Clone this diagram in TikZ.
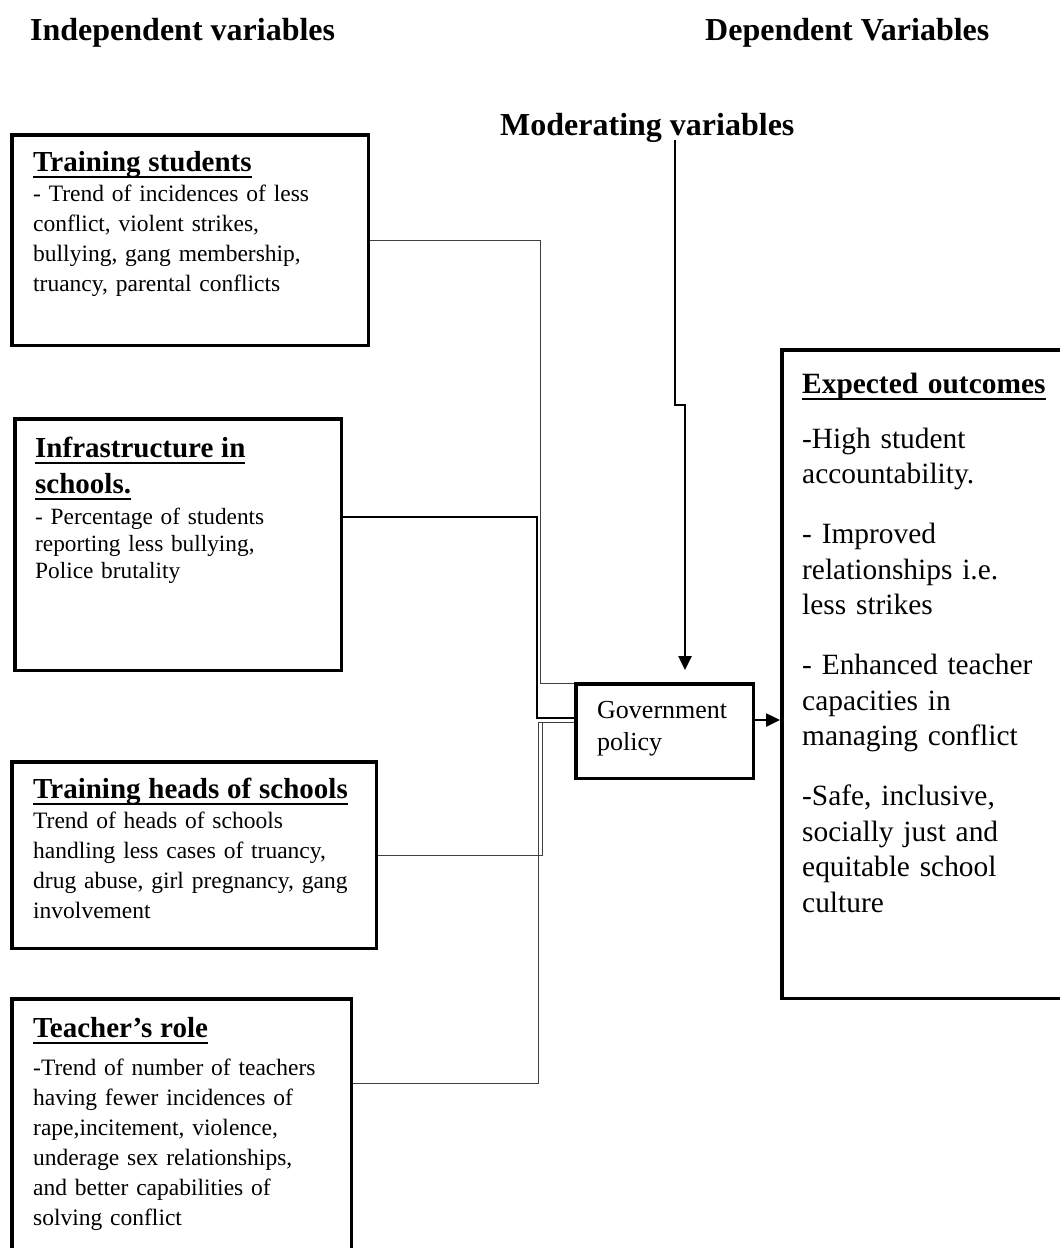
\documentclass[tikz,border=0pt]{standalone}
\usepackage{fontspec}
\setmainfont{Liberation Serif}
\usetikzlibrary{arrows.meta,positioning,calc}
\definecolor{wiregray}{HTML}{404040}
\newcommand{\ulbox}[1]{\leavevmode\setbox0=\hbox{#1}\rlap{\rule[-6.5pt]{\wd0}{2pt}}\box0}
\newcommand{\hdfont}{\bfseries\fontsize{29}{36}\selectfont}

\begin{document}
\begin{tikzpicture}[x=1pt,y=-1pt,
  box/.style={draw,line width=3.5pt,rectangle,inner sep=0pt},
  label/.style={anchor=base west,inner sep=0pt,align=left,text width=345pt},
  title/.style={anchor=base west,inner sep=0pt,font=\bfseries\fontsize{32}{38}\selectfont},
  link/.style={wiregray,line width=1pt},
  feed/.style={line width=2.5pt,-{Triangle[length=14pt,width=13pt]}}]
  \useasboundingbox (0,0) rectangle (1060,1248);
  \clip (0,0) rectangle (1060,1248);

  % Headings
  \node[title] (indep) at (30,40) {Independent variables};
  \node[title] (dep) at (705,40) {Dependent Variables};
  \node[title] (moder) at (500,135) {Moderating variables};

  % Boxes
  \node[box,minimum width=356.5pt,minimum height=210.5pt] (ts) at (190,240) {};
  \node[box,minimum width=326.5pt,minimum height=251.5pt] (inf) at (178,544.5) {};
  \node[box,minimum width=364.5pt,minimum height=186.5pt] (heads) at (194,855) {};
  \node[box,minimum width=339.5pt,minimum height=279.5pt] (teach) at (181.5,1138.5) {};
  \node[box,minimum width=177.5pt,minimum height=94.5pt] (gov) at (664.5,731) {};
  \node[box,minimum width=306.5pt,minimum height=648.5pt] (exp) at (935,674) {};

  % Box texts
  \node[label,font=\fontsize{23.5}{30}\selectfont] (tstext) at (33,171)
    {\ulbox{\hdfont Training students}\\
     - Trend of incidences of less\\
     conflict, violent strikes,\\
     bullying, gang membership,\\
     truancy, parental conflicts};
  \node[label,font=\fontsize{23.3}{27}\selectfont] (inftext) at (35,457)
    {\ulbox{\hdfont Infrastructure in}\\[9pt]
     \ulbox{\hdfont schools.}\\[4pt]
     - Percentage of students\\
     reporting less bullying,\\
     Police brutality};
  \node[label,font=\fontsize{23.5}{30}\selectfont] (headstext) at (33,798)
    {\ulbox{\hdfont Training heads of schools}\\
     Trend of heads of schools\\
     handling less cases of truancy,\\
     drug abuse, girl pregnancy, gang\\
     involvement};
  \node[label,font=\fontsize{23.5}{30}\selectfont] (teachtext) at (33,1037)
    {\ulbox{\hdfont Teacher’s role}\\[8pt]
     -Trend of number of teachers\\
     having fewer incidences of\\
     rape,incitement, violence,\\
     underage sex relationships,\\
     and better capabilities of\\
     solving conflict};
  \node[label,text width=160pt,font=\fontsize{26}{32}\selectfont] (govtext) at (597,718)
    {Government\\policy};
  \node[label,text width=280pt,font=\fontsize{29.4}{35.5}\selectfont] (exptext) at (802,393)
    {\ulbox{\bfseries Expected outcomes}\\[19.5pt]
     -High student\\
     accountability.\\[24.5pt]
     - Improved\\
     relationships i.e.\\
     less strikes\\[24.5pt]
     - Enhanced teacher\\
     capacities in\\
     managing conflict\\[24.5pt]
     -Safe, inclusive,\\
     socially just and\\
     equitable school\\
     culture};

  % Connectors into government policy
  \coordinate (j1) at (540,683);
  \coordinate (j2) at (537,718);
  \coordinate (j3) at (542,722);
  \coordinate (j4) at (538,722);
  \draw[link] (ts.east) -| (j1) -- (j1 -| gov.west);
  \draw[link] (heads.east) -| (j3) -- (j3 -| gov.west);
  \draw[link] ([yshift=55.5pt]teach.east) -| (j4) -- (j4 -| gov.west);
  \draw[line width=2.5pt] ([yshift=27.5pt]inf.east) -| (j2) -- (j2 -| gov.west);

  % Moderating arrow
  \coordinate (m1) at (675,140);
  \coordinate (m2) at (675,405);
  \coordinate (m3) at (685,670);
  \draw[feed] (m1) -- (m2) -| (m3);

  % Outcome arrow
  \coordinate (ga) at ([yshift=11pt]gov.east);
  \draw[feed] (ga) -- (ga -| exp.west);
\end{tikzpicture}
\end{document}
